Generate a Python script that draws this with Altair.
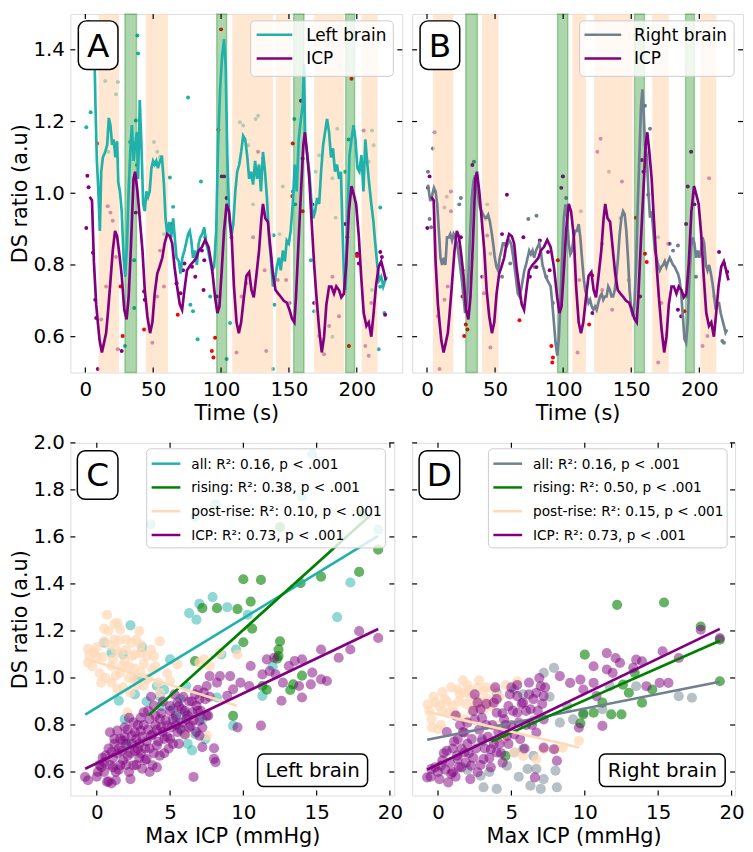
import altair as alt
import pandas as pd

FONT = "DejaVu Sans"
TEAL = "#20b2aa"
SLATE = "#708090"
PURPLE = "#800080"
GREEN = "#008000"
PEACH = "#ffdab9"
RED = "#ff0000"

# ---------------- time series (panels A, B) ----------------
icp_t = [3.2, 4.9, 6.3, 8.0, 9.2, 10.5, 12.2, 13.6, 15.3, 16.5,
         18.2, 20.2, 21.9, 23.4, 25.1, 26.8, 28.7, 30.4, 31.9, 33.6,
         35.5, 36.7, 38.4, 40.1, 42.1, 43.8, 45.7, 47.7, 49.4, 51.1,
         53.0, 54.7, 56.7, 58.4, 60.3, 62.3, 64.0, 65.7, 67.6, 69.6,
         71.3, 73.0, 74.9, 77.4, 79.8, 81.8, 83.5, 85.9, 88.3, 90.8,
         93.2, 95.6, 97.3, 98.8, 100.5, 102.2, 104.1, 105.8, 107.8, 109.5,
         111.4, 113.1, 114.8, 116.8, 118.7, 120.7, 122.4, 124.1, 126.0, 128.0,
         129.7, 130.9, 132.6, 134.5, 136.3, 138.2, 140.1, 142.1, 144.3, 146.2,
         148.4, 150.4, 152.3, 154.0, 155.2, 156.9, 158.9, 160.6, 161.8, 163.3,
         165.0, 166.7, 168.6, 170.3, 172.3, 174.2, 175.9, 177.6, 179.6, 181.3,
         183.2, 184.9, 186.9, 188.6, 190.5, 192.2, 194.2, 196.1, 197.8, 199.5,
         201.5, 203.2, 205.1, 207.1, 208.8, 210.7, 212.4, 214.1, 216.1, 218.0,
         219.7, 221.4]
icp_v = [0.99, 0.98, 0.81, 0.69, 0.64, 0.59, 0.556, 0.58, 0.61, 0.66,
         0.74, 0.84, 0.895, 0.88, 0.83, 0.77, 0.675, 0.648, 0.71, 0.85,
         1.04, 1.06, 1.005, 0.93, 0.84, 0.73, 0.657, 0.61, 0.64, 0.72,
         0.776, 0.795, 0.82, 0.86, 0.886, 0.88, 0.86, 0.795, 0.74, 0.69,
         0.675, 0.73, 0.785, 0.80, 0.81, 0.82, 0.84, 0.85, 0.87, 0.85,
         0.795, 0.71, 0.666, 0.684, 0.785, 0.895, 0.97, 0.95, 0.88, 0.74,
         0.64, 0.61, 0.64, 0.71, 0.77, 0.78, 0.73, 0.71, 0.77, 0.84,
         0.93, 0.97, 0.93, 0.92, 0.85, 0.776, 0.73, 0.72, 0.71, 0.70,
         0.695, 0.675, 0.65, 0.64, 0.71, 0.85, 1.005, 1.134, 1.17, 1.115,
         1.04, 0.923, 0.80, 0.71, 0.62, 0.556, 0.60, 0.69, 0.74, 0.74,
         0.72, 0.74, 0.73, 0.71, 0.72, 0.80, 0.95, 1.02, 0.996, 0.97,
         0.88, 0.77, 0.666, 0.63, 0.64, 0.60, 0.666, 0.74, 0.795, 0.81,
         0.785, 0.757]

left_brain = [(6.3, 1.47), (7.5, 1.24), (8.5, 1.09), (9.5, 1.015), (10.7, 0.895), (11.7, 1.06),
              (12.9, 1.10), (14.6, 1.115), (16.1, 1.135), (17.3, 1.21), (18.5, 1.19), (19.7, 1.135),
              (20.9, 1.15), (22.1, 1.10), (23.4, 1.145), (24.3, 1.03), (25.5, 1.005), (26.8, 0.95),
              (28.2, 0.82), (29.4, 0.767), (30.7, 0.86), (31.9, 1.005), (33.1, 1.115), (34.3, 1.19),
              (35.5, 1.09), (36.7, 1.135), (38.0, 1.17), (38.9, 1.04), (40.1, 1.26), (41.4, 1.125),
              (42.6, 0.97), (43.8, 0.95), (45.0, 1.005), (46.2, 0.99), (47.4, 1.005), (48.7, 1.07),
              (49.9, 1.09), (51.1, 1.08), (52.3, 1.09), (53.5, 1.07), (55.0, 1.09), (56.4, 1.105),
              (57.9, 1.025), (59.1, 0.93), (60.3, 0.886), (61.8, 0.92), (63.3, 0.877), (64.7, 0.93),
              (65.9, 0.877), (67.2, 0.82), (68.9, 0.81), (70.1, 0.776), (71.5, 0.82), (73.0, 0.84),
              (74.2, 0.86), (75.7, 0.886), (76.9, 0.895), (78.1, 0.868), (79.3, 0.82), (80.8, 0.84),
              (82.2, 0.80), (83.5, 0.86), (84.7, 0.877), (86.1, 0.886), (87.6, 0.905), (89.1, 0.86),
              (90.5, 0.84), (92.0, 0.81), (93.4, 0.785), (94.9, 0.795), (96.4, 0.895), (97.8, 1.135),
              (99.3, 1.29), (100.7, 1.38), (102.2, 1.43), (103.4, 1.354), (104.6, 1.106), (106.1, 0.923),
              (107.5, 0.877), (109.0, 0.914), (110.5, 1.005), (111.9, 1.06), (113.4, 1.08), (114.8, 1.115),
              (116.3, 1.16), (117.8, 1.15), (119.2, 1.106), (120.7, 1.04), (122.1, 1.06), (123.6, 1.024),
              (125.1, 1.09), (126.5, 1.04), (128.0, 1.08), (129.4, 1.005), (130.9, 1.115), (132.4, 1.06),
              (133.8, 0.987), (135.3, 0.877), (136.7, 0.82), (138.2, 0.74), (139.7, 0.757), (141.1, 0.795),
              (142.6, 0.82), (144.0, 0.785), (145.5, 0.84), (147.0, 0.81), (148.4, 0.868), (149.9, 0.86),
              (151.3, 0.895), (152.8, 0.97), (154.3, 1.08), (155.7, 1.005), (157.2, 1.15), (158.6, 1.2),
              (160.1, 1.244), (161.1, 1.36), (162.0, 1.15), (163.5, 1.106), (165.0, 1.06), (166.4, 0.987),
              (167.9, 0.93), (169.3, 0.95), (170.8, 0.987), (172.3, 0.97), (173.7, 1.06), (175.2, 1.134),
              (176.6, 1.17), (178.1, 1.207), (179.6, 1.17), (181.0, 1.10), (182.5, 1.125), (183.9, 1.06),
              (185.4, 1.08), (186.9, 1.04), (188.3, 1.06), (189.3, 0.923), (190.8, 0.74), (191.7, 0.73),
              (193.2, 0.923), (194.6, 1.106), (196.1, 1.15), (197.6, 1.19), (199.0, 1.15), (200.5, 1.07),
              (201.9, 1.06), (203.4, 1.106), (204.9, 1.005), (206.3, 1.15), (207.8, 1.08), (209.2, 1.024),
              (210.7, 0.97), (212.2, 0.923), (213.6, 0.86), (215.1, 0.80), (216.5, 0.757), (218.0, 0.767),
              (219.5, 0.74), (220.9, 0.757), (222.1, 0.767)]

right_brain = [(0.7, 1.024), (2.4, 0.978), (3.9, 0.996), (5.1, 1.015), (6.3, 1.005), (7.5, 0.969),
               (8.7, 0.895), (9.9, 0.82), (11.1, 0.80), (12.3, 0.82), (13.5, 0.80), (14.7, 0.877),
               (16.0, 0.877), (17.1, 0.886), (18.4, 0.868), (19.6, 0.886), (20.8, 0.877), (22.0, 0.86),
               (23.2, 0.83), (24.4, 0.795), (25.6, 0.758), (26.8, 0.712), (28.0, 0.666), (29.2, 0.694),
               (30.4, 0.767), (31.6, 0.877), (32.9, 0.987), (34.1, 1.033), (35.3, 1.05), (36.5, 1.024),
               (37.7, 0.987), (38.9, 0.96), (40.1, 0.95), (41.3, 0.94), (42.5, 0.932), (43.7, 0.932),
               (44.9, 0.94), (46.1, 0.923), (47.3, 0.895), (48.6, 0.86), (49.8, 0.82), (51.0, 0.795),
               (52.2, 0.785), (53.4, 0.82), (54.6, 0.84), (55.8, 0.86), (57.0, 0.86), (58.2, 0.85),
               (59.4, 0.86), (60.6, 0.868), (61.8, 0.86), (63.0, 0.83), (64.3, 0.795), (65.5, 0.758),
               (66.7, 0.72), (67.9, 0.712), (69.1, 0.73), (70.3, 0.758), (71.5, 0.785), (72.7, 0.80),
               (73.9, 0.82), (75.1, 0.84), (76.3, 0.83), (77.5, 0.84), (78.7, 0.82), (80.0, 0.84),
               (81.2, 0.85), (82.4, 0.86), (83.6, 0.84), (84.8, 0.80), (86.0, 0.785), (87.2, 0.767),
               (88.4, 0.758), (89.6, 0.749), (90.8, 0.74), (92.0, 0.694), (93.2, 0.64), (94.4, 0.583),
               (95.7, 0.547), (96.9, 0.60), (98.1, 0.712), (99.3, 0.83), (100.5, 0.932), (101.7, 0.969),
               (102.9, 0.932), (104.1, 0.86), (105.3, 0.83), (106.5, 0.84), (107.7, 0.877), (108.9, 0.895),
               (110.1, 0.895), (111.4, 0.914), (112.6, 0.877), (113.8, 0.82), (115.0, 0.767), (116.2, 0.73),
               (117.4, 0.712), (118.6, 0.694), (119.8, 0.703), (121.0, 0.684), (122.2, 0.675), (123.4, 0.684),
               (124.6, 0.675), (125.8, 0.694), (127.1, 0.712), (128.3, 0.72), (129.5, 0.703), (130.7, 0.712),
               (131.9, 0.712), (133.1, 0.74), (134.3, 0.73), (135.5, 0.712), (136.7, 0.712), (137.9, 0.73),
               (139.1, 0.767), (140.3, 0.82), (141.5, 0.886), (142.8, 0.932), (144.0, 0.95), (145.2, 0.941),
               (146.4, 0.895), (147.6, 0.82), (148.8, 0.73), (150.0, 0.675), (151.2, 0.657), (152.4, 0.694),
               (153.6, 0.80), (154.8, 0.969), (156.0, 1.106), (157.2, 1.244), (158.2, 1.29), (159.2, 1.217),
               (160.1, 1.134), (161.4, 1.106), (162.6, 1.005), (163.8, 0.932), (165.0, 0.95), (166.2, 0.895),
               (167.4, 0.84), (168.6, 0.82), (169.8, 0.80), (171.0, 0.785), (172.2, 0.795), (173.4, 0.80),
               (174.6, 0.81), (175.8, 0.795), (177.1, 0.81), (178.3, 0.82), (179.5, 0.81), (180.7, 0.80),
               (181.9, 0.795), (183.1, 0.785), (184.3, 0.776), (185.5, 0.758), (186.7, 0.72), (187.9, 0.657),
               (189.1, 0.593), (190.3, 0.583), (191.5, 0.64), (192.8, 0.767), (194.0, 0.85), (195.2, 0.877),
               (196.4, 0.86), (197.6, 0.82), (198.8, 0.84), (200.0, 0.82), (201.2, 0.84), (202.4, 0.877),
               (203.6, 0.86), (204.8, 0.80), (206.0, 0.785), (207.2, 0.80), (208.5, 0.776), (209.7, 0.749),
               (210.9, 0.712), (212.1, 0.675), (213.3, 0.694), (214.5, 0.694), (215.7, 0.666), (216.9, 0.648),
               (218.1, 0.63), (219.3, 0.611), (220.5, 0.62)]

# raw samples (panel A)
a_dots_brain = [(2.4, 1.478), (0.7, 1.184), (3.9, 1.226), (38.4, 1.44), (38.9, 1.39), (33.1, 1.143),
                (37.2, 1.203), (38.0, 1.079), (36.0, 0.813), (36.0, 0.68), (29.2, 0.574), (75.7, 1.267),
                (62.3, 1.044), (64.7, 0.962), (85.2, 1.033), (77.4, 0.689), (79.3, 0.671), (82.7, 0.593),
                (92.0, 0.712), (88.3, 0.877), (106.6, 0.638), (104.1, 0.538), (154.0, 1.207), (152.8, 1.005),
                (154.7, 0.969), (166.2, 0.813), (168.6, 0.671), (139.4, 0.689), (138.7, 0.883), (217.3, 0.96),
                (216.1, 0.565), (220.4, 0.666), (217.3, 0.739), (211.2, 0.73), (182.0, 0.60), (191.0, 1.06),
                (194.0, 1.15), (138.2, 0.51), (14.6, 1.313), (22.6, 1.276), (23.8, 1.31), (17.0, 1.116),
                (50.6, 1.143), (53.0, 1.116), (55.0, 1.102), (57.9, 0.886), (113.9, 1.198), (116.3, 1.189),
                (120.0, 1.134), (125.5, 1.207), (127.3, 1.216), (123.6, 0.969), (145.5, 1.019), (143.1, 0.886),
                (169.8, 1.06), (172.3, 1.106), (182.0, 1.042), (185.6, 1.18), (184.4, 0.932), (208.8, 1.088),
                (211.2, 1.175), (212.4, 1.134)]
a_dots_icp = [(1.5, 1.049), (2.4, 1.017), (0.7, 0.903), (5.6, 0.834), (7.3, 0.703), (8.0, 0.652), (9.2, 0.51),
              (26.8, 0.56), (37.2, 0.946), (36.5, 1.042), (43.3, 0.726), (43.8, 0.703), (64.0, 0.914),
              (67.2, 0.749), (70.1, 0.721), (72.0, 0.785), (73.0, 0.804), (78.6, 0.795), (81.0, 0.767),
              (85.9, 0.84), (87.6, 0.813), (87.1, 0.73), (96.8, 0.712), (100.5, 1.047), (102.2, 1.047),
              (104.1, 0.987), (107.8, 0.877), (141.8, 0.758), (147.9, 0.758), (150.4, 0.694), (158.9, 1.258),
              (160.1, 1.097), (167.4, 0.969), (168.6, 0.694), (191.7, 0.914), (193.0, 0.877), (200.2, 0.831),
              (201.5, 0.804), (217.3, 0.836), (218.5, 0.822), (220.9, 0.661), (16.5, 0.964), (18.5, 0.946),
              (20.2, 0.923), (11.7, 0.648), (15.3, 0.74), (22.6, 0.822), (23.8, 0.565), (53.0, 0.712),
              (55.0, 0.84), (57.9, 0.74), (49.4, 0.583), (115.1, 0.712), (118.7, 0.749), (127.3, 1.116),
              (130.9, 1.097), (123.6, 0.877), (132.1, 0.785), (111.4, 0.556), (133.3, 0.56), (172.3, 0.602),
              (175.9, 0.551), (179.6, 0.63), (182.0, 0.767), (186.9, 0.657), (206.3, 0.574), (208.8, 0.547),
              (210.7, 0.694), (205.1, 1.175)]
a_dots_red = [(8.8, 1.139), (27.5, 0.602), (25.8, 0.74), (43.3, 0.62), (68.1, 0.661), (93.2, 0.56),
              (94.4, 0.542), (95.6, 0.597), (98.1, 1.177), (100.0, 1.457), (152.8, 1.139), (152.3, 0.992),
              (160.1, 0.95), (196.1, 1.319), (194.2, 0.574), (200.2, 0.825)]

# raw samples (panel B)
b_dots_brain = [(0.7, 1.06), (1.9, 0.928), (4.3, 1.125), (3.1, 0.905), (24.9, 0.987), (23.7, 0.969),
                (43.0, 0.928), (34.5, 1.088), (46.6, 0.831), (55.1, 0.767), (61.1, 0.804), (74.4, 0.928),
                (80.4, 0.937), (79.2, 0.794), (87.7, 0.767), (92.5, 0.694), (99.8, 1.047), (102.2, 0.987),
                (160.1, 1.244), (163.8, 1.18), (178.3, 0.859), (180.7, 0.84), (184.3, 0.854), (191.5, 0.712),
                (197.6, 0.767), (216.9, 0.588), (218.1, 0.583), (210.9, 0.712), (12.8, 0.96), (44.2, 0.969),
                (113.0, 0.95), (133.6, 1.06), (169.8, 0.877), (201.2, 0.831), (14.5, 0.99), (142.0, 0.93)]
b_dots_icp = [(0.7, 1.015), (0.2, 0.903), (1.9, 1.047), (17.6, 0.95), (24.9, 0.877), (26.1, 0.785),
              (33.3, 1.079), (44.2, 0.882), (55.1, 0.886), (58.7, 0.996), (70.8, 0.877), (75.6, 0.767),
              (80.4, 0.794), (82.9, 0.868), (88.9, 0.836), (90.1, 0.785), (99.8, 1.047), (98.6, 1.015),
              (121.5, 0.666), (128.7, 0.859), (157.7, 1.093), (159.0, 1.06), (156.5, 0.712), (162.6, 0.996),
              (177.1, 0.859), (184.3, 0.675), (186.7, 0.657), (190.3, 0.914), (191.5, 1.019), (194.0, 1.116),
              (196.4, 0.969), (214.5, 0.836), (218.1, 0.804), (220.5, 0.781), (5.6, 1.17), (8.0, 0.657),
              (12.8, 0.703), (15.2, 0.74), (9.2, 0.51), (17.6, 1.005), (40.6, 0.767), (41.8, 0.721),
              (46.6, 0.57), (110.6, 0.556), (111.8, 0.758), (125.1, 1.116), (127.5, 1.152), (128.7, 0.73),
              (136.0, 0.675), (143.2, 1.033), (148.1, 0.758), (169.8, 0.528), (174.6, 0.583), (172.2, 0.694),
              (202.4, 0.574), (206.0, 0.602), (207.2, 1.042)]
b_dots_red = [(26.1, 0.712), (27.3, 0.602), (28.5, 0.634), (29.7, 0.62), (67.9, 0.646), (91.3, 0.574),
              (92.5, 0.542), (92.0, 0.528), (96.1, 0.813), (121.5, 0.771), (119.1, 0.634), (153.4, 0.932),
              (160.1, 0.831), (161.4, 0.808), (189.1, 0.671)]

# rising (green) and post-rise (orange) windows, seconds
a_post = [(9.7, 24.8), (44.5, 60.8), (108.3, 138.2), (140.4, 151.3), (168.6, 190.5), (203.6, 215.3)]
a_rise = [(29.2, 37.7), (96.8, 104.1), (153.5, 161.1), (191.8, 198.4)]
b_post = [(4.4, 19.3), (40.3, 52.4), (106.8, 116.7), (122.7, 151.0), (165.4, 177.5), (200.7, 212.5)]
b_rise = [(28.5, 37.0), (95.9, 103.4), (152.4, 159.7), (189.9, 196.4)]

# ---------------- scatter (panels C, D) ----------------
c_all = [(3.7, 1.654), (6.7, 1.685), (8.1, 1.74), (14.0, 1.772), (14.7, 1.952), (19.2, 1.631), (17.3, 1.406),
         (16.4, 1.259), (6.3, 1.276), (6.8, 1.248), (7.0, 1.315), (7.9, 1.344), (8.9, 1.301), (10.3, 1.269),
         (9.5, 1.121), (8.5, 1.10), (2.3, 1.224), (5.0, 1.079), (4.1, 0.966), (1.5, 0.903), (1.9, 0.825),
         (2.1, 0.72), (5.2, 0.868), (5.7, 0.91), (6.1, 0.966), (6.5, 0.692), (6.7, 0.762), (7.2, 0.825),
         (9.3, 0.797), (11.3, 0.924), (8.2, 0.917), (4.3, 0.924), (1.0, 1.107), (5.8, 0.776), (4.6, 0.95),
         (3.4, 0.90), (6.0, 0.85), (2.8, 1.0), (12.0, 1.05), (0.5, 1.15), (1.8, 1.10), (2.6, 0.93),
         (3.1, 1.13), (4.4, 0.88), (5.4, 0.83), (6.2, 0.72), (7.4, 0.74)]
c_rise = [(7.2, 1.297), (8.2, 1.297), (9.6, 1.293), (10.0, 1.42), (11.2, 1.417), (10.5, 1.325), (10.6, 1.21),
          (10.0, 1.152), (12.5, 1.156), (12.4, 1.121), (12.4, 1.093), (12.3, 1.082), (13.9, 1.403),
          (15.3, 1.431), (17.9, 1.451), (19.2, 1.546), (13.2, 0.949), (13.4, 0.973), (9.3, 0.839),
          (11.3, 0.966), (6.7, 1.072), (18.1, 1.699), (12.5, 1.642), (14.0, 1.01), (11.6, 0.95)]
c_post = [(-0.6, 1.124), (-0.6, 1.065), (-0.2, 1.107), (0.7, 1.269), (1.4, 1.234), (1.6, 1.206), (0.5, 1.156),
          (1.2, 1.163), (2.0, 1.163), (2.7, 1.163), (3.0, 1.107), (3.4, 1.093), (3.9, 1.093), (4.3, 1.156),
          (2.4, 1.093), (1.9, 1.072), (1.0, 1.051), (0.3, 0.98), (1.0, 0.98), (1.4, 0.952), (2.5, 0.994),
          (1.6, 1.023), (2.3, 0.938), (3.2, 0.966), (3.0, 1.023), (3.8, 1.037), (5.5, 1.058), (7.0, 1.065),
          (7.7, 1.051), (7.3, 1.079), (8.4, 1.107), (7.5, 0.755), (6.1, 0.762), (2.1, 0.854), (5.0, 0.987),
          (4.3, 0.938), (1.6, 1.107), (1.3, 1.121), (3.4, 0.994), (0.0, 1.09), (2.2, 1.05), (0.8, 1.20),
          (2.6, 1.10), (4.8, 1.02), (9.6, 1.10), (-0.5, 1.10), (-0.3, 1.05), (0.0, 1.13), (0.2, 1.02),
          (0.4, 1.09), (0.6, 1.00), (0.9, 1.14), (1.1, 1.08), (1.3, 1.01), (1.5, 1.16), (1.7, 1.05),
          (1.8, 0.96), (2.0, 1.12), (2.2, 1.00), (2.4, 1.15), (2.6, 1.04), (2.8, 0.97), (3.0, 1.14),
          (3.2, 1.06), (3.5, 1.00), (3.7, 1.12), (4.0, 1.05), (4.2, 0.98), (1.2, 1.23), (2.9, 1.20),
          (0.5, 1.21)]
c_icp = [(-0.8, 0.579), (-0.6, 0.565), (0.07, 0.60), (0.3, 0.621), (0.7, 0.558), (1.0, 0.551), (1.3, 0.565),
         (0.5, 0.642), (1.0, 0.685), (1.2, 0.741), (0.9, 0.769), (1.4, 0.776), (1.8, 0.734), (2.1, 0.67),
         (1.6, 0.628), (2.2, 0.60), (2.5, 0.628), (2.8, 0.699), (2.4, 0.755), (3.0, 0.776), (2.5, 0.811),
         (3.2, 0.854), (3.6, 0.825), (3.9, 0.882), (3.7, 0.755), (4.1, 0.713), (3.4, 0.656), (3.1, 0.614),
         (3.8, 0.628), (4.3, 0.67), (4.6, 0.741), (4.8, 0.797), (4.3, 0.825), (5.2, 0.825), (5.5, 0.896),
         (5.8, 0.868), (6.1, 0.825), (6.5, 0.854), (6.8, 0.882), (7.0, 0.91), (7.3, 0.938), (7.5, 0.966),
         (7.0, 0.818), (6.4, 0.797), (5.7, 0.783), (5.0, 0.741), (7.0, 0.755), (7.2, 0.706), (8.0, 0.701),
         (8.0, 0.656), (8.1, 0.642), (6.6, 0.579), (7.7, 1.008), (8.2, 0.98), (8.4, 1.008), (9.1, 1.008),
         (9.8, 0.98), (8.9, 0.924), (9.3, 0.952), (10.4, 0.966), (10.5, 1.051), (11.3, 1.015), (11.8, 1.029),
         (12.1, 1.086), (12.2, 1.015), (12.7, 0.98), (13.1, 1.051), (13.5, 1.072), (14.0, 1.079), (13.8, 0.966),
         (14.0, 0.917), (14.6, 0.973), (15.3, 0.994), (15.7, 0.987), (14.7, 1.023), (15.3, 1.121), (16.5, 1.086),
         (17.3, 1.121), (17.9, 1.199), (19.2, 1.17), (12.6, 0.903), (11.2, 0.797), (9.6, 0.79), (11.6, 1.079),
         (1.5, 0.70), (2.0, 0.72), (2.7, 0.74), (3.3, 0.70), (3.5, 0.78), (4.0, 0.80), (4.5, 0.77), (2.9, 0.66),
         (1.8, 0.65), (0.8, 0.70), (1.1, 0.62), (2.3, 0.57), (3.6, 0.60), (4.4, 0.85), (5.0, 0.88), (5.4, 0.80),
         (6.0, 0.86), (6.3, 0.90), (6.7, 0.93), (5.3, 0.93), (4.9, 0.70), (2.6, 0.69), (1.9, 0.79), (0.4, 0.66),
         (3.0, 0.83), (6.9, 0.86), (7.6, 0.84), (4.1, 0.62), (5.6, 0.72), (1.3, 0.60),
         (0.0, 0.58), (0.2, 0.63), (0.5, 0.60), (0.6, 0.67), (0.9, 0.63), (1.1, 0.66), (1.2, 0.72), (1.4, 0.68),
         (1.5, 0.61), (1.7, 0.69), (1.9, 0.75), (2.0, 0.63), (2.1, 0.78), (2.3, 0.68), (2.4, 0.72), (2.6, 0.77),
         (2.7, 0.63), (2.8, 0.80), (2.9, 0.72), (3.0, 0.68), (3.1, 0.75), (3.2, 0.80), (3.3, 0.65), (3.4, 0.73),
         (3.5, 0.86), (3.6, 0.70), (3.8, 0.76), (3.9, 0.68), (4.0, 0.84), (4.1, 0.78), (4.2, 0.73), (4.4, 0.79),
         (4.5, 0.90), (4.6, 0.68), (4.7, 0.82), (4.8, 0.75), (5.0, 0.86), (5.1, 0.79), (5.2, 0.72), (5.4, 0.84),
         (5.5, 0.77), (5.6, 0.88), (5.8, 0.81), (5.9, 0.92), (6.0, 0.76), (6.2, 0.84), (6.3, 0.79), (6.5, 0.90),
         (6.6, 0.82), (6.8, 0.77), (6.9, 0.95), (7.1, 0.86), (7.2, 0.79), (7.4, 0.91), (7.5, 0.84), (7.7, 0.92),
         (3.7, 0.92), (2.2, 0.83), (1.6, 0.74), (0.8, 0.56)]

d_all = [(7.9, 1.043), (8.3, 0.81), (9.2, 0.824), (6.7, 0.613), (7.2, 0.57), (8.1, 0.535), (6.3, 0.542),
         (4.0, 0.528), (3.1, 0.535), (4.7, 0.627), (5.2, 0.683), (5.8, 0.697), (6.5, 0.669), (4.0, 0.937),
         (5.2, 0.951), (7.2, 1.022), (16.4, 0.923), (17.3, 0.916), (13.5, 0.965), (11.7, 0.965), (11.2, 0.867),
         (9.9, 0.852), (2.9, 0.584), (8.0, 0.606), (7.0, 0.528), (6.1, 0.613), (3.5, 0.60), (5.5, 0.58),
         (5.8, 0.93), (6.5, 0.82), (7.6, 0.92), (8.8, 0.88), (4.4, 0.78), (3.0, 0.73), (2.0, 0.61)]
d_rise = [(12.2, 1.311), (15.4, 1.321), (17.9, 1.219), (19.2, 1.163), (19.2, 0.986), (10.0, 1.099), (10.6, 0.852),
          (9.9, 0.845), (11.8, 0.845), (12.5, 0.845), (11.2, 0.895), (9.7, 0.807), (12.6, 0.972), (13.9, 0.895),
          (14.6, 0.951), (13.4, 1.022), (13.0, 0.937), (4.6, 0.669)]
d_post = [(-0.7, 0.888), (-0.2, 0.895), (0.45, 0.909), (0.7, 0.852), (-0.45, 0.824), (0.0, 0.782), (1.35, 0.951),
          (1.8, 0.937), (2.25, 0.923), (2.7, 0.958), (3.1, 0.944), (3.8, 0.951), (2.5, 0.881), (3.1, 0.867),
          (1.8, 0.824), (1.1, 0.852), (5.4, 0.986), (5.2, 0.683), (5.8, 0.669), (7.2, 0.697), (8.0, 0.697),
          (8.5, 0.704), (9.6, 0.733), (6.7, 0.655), (4.5, 0.74), (4.0, 0.796), (1.4, 0.90), (2.0, 0.97),
          (0.3, 0.86), (3.4, 0.91), (-0.6, 0.86), (-0.3, 0.92), (0.1, 0.88), (0.3, 0.94), (0.6, 0.90),
          (0.9, 0.96), (1.0, 0.88), (1.3, 0.84), (1.5, 0.93), (1.7, 0.99), (1.9, 0.89), (2.1, 0.95),
          (2.3, 0.86), (2.6, 0.91), (2.8, 0.99), (3.0, 0.90), (3.3, 0.96), (3.6, 0.88), (4.2, 0.92),
          (4.6, 0.97), (0.2, 0.80), (-0.4, 0.79)]
d_icp = [(-0.74, 0.577), (-0.45, 0.613), (0.2, 0.627), (0.7, 0.556), (0.9, 0.592), (1.35, 0.655), (1.8, 0.683),
         (2.25, 0.627), (2.7, 0.599), (3.1, 0.655), (3.6, 0.697), (1.35, 0.74), (1.8, 0.768), (2.5, 0.824),
         (2.9, 0.867), (2.7, 0.895), (3.8, 0.895), (4.0, 0.852), (4.5, 0.824), (4.7, 0.754), (5.4, 0.852),
         (5.4, 0.923), (5.8, 0.895), (6.3, 0.867), (6.7, 0.937), (7.0, 0.965), (7.2, 0.923), (7.2, 0.824),
         (6.7, 0.768), (5.6, 0.74), (7.2, 0.704), (8.1, 0.648), (6.6, 0.577), (4.0, 0.683), (8.3, 1.008),
         (9.0, 0.979), (9.7, 0.993), (9.9, 0.951), (10.6, 0.979), (10.8, 0.923), (10.6, 1.05), (11.5, 1.036),
         (11.9, 1.022), (12.4, 1.064), (12.1, 1.085), (13.3, 1.043), (13.5, 1.078), (13.9, 1.071), (14.2, 0.965),
         (15.1, 0.979), (15.7, 0.979), (15.3, 1.113), (16.4, 1.085), (17.9, 1.205), (19.2, 1.17), (9.6, 0.789),
         (11.2, 0.796), (7.9, 0.697), (11.5, 1.106), (1.0, 0.70), (1.6, 0.62), (2.0, 0.72), (2.4, 0.66),
         (3.0, 0.74), (3.3, 0.80), (3.6, 0.62), (4.2, 0.72), (4.8, 0.88), (5.0, 0.80), (2.2, 0.57), (1.2, 0.58),
         (0.4, 0.68), (3.9, 0.96), (6.0, 0.80), (6.2, 0.93), (5.0, 0.96), (4.4, 0.64), (0.0, 0.60), (1.5, 0.80),
         (-0.5, 0.58), (-0.2, 0.62), (0.1, 0.57), (0.3, 0.65), (0.5, 0.61), (0.6, 0.69), (0.8, 0.64), (1.0, 0.60),
         (1.1, 0.73), (1.3, 0.67), (1.4, 0.62), (1.6, 0.70), (1.7, 0.77), (1.9, 0.64), (2.0, 0.81), (2.1, 0.68),
         (2.3, 0.74), (2.4, 0.86), (2.6, 0.70), (2.8, 0.78), (2.9, 0.63), (3.0, 0.83), (3.2, 0.70), (3.3, 0.89),
         (3.4, 0.75), (3.5, 0.66), (3.7, 0.80), (3.8, 0.72), (4.0, 0.91), (4.1, 0.77), (4.3, 0.68), (4.4, 0.85),
         (4.6, 0.80), (4.8, 0.72), (4.9, 0.93), (5.1, 0.86), (5.2, 0.76), (5.4, 0.97), (5.5, 0.81), (5.7, 0.89),
         (5.9, 0.70), (6.0, 0.86), (6.2, 0.98), (6.4, 0.80), (6.5, 0.91), (6.8, 0.86), (6.9, 1.0), (7.1, 0.89),
         (7.3, 0.96), (2.5, 0.93), (1.2, 0.84), (0.6, 0.77)]

# regression line end points
c_fit = {"all": [(-0.79, 0.844), (19.2, 1.604)], "rising": [(3.54, 0.842), (18.8, 1.70)],
         "post": [(-0.79, 1.083), (9.57, 0.882)], "icp": [(-0.79, 0.614), (19.2, 1.208)]}
d_fit = {"all": [(-0.74, 0.737), (19.2, 0.984)], "rising": [(3.64, 0.73), (19.2, 1.158)],
         "post": [(-0.74, 0.857), (9.6, 0.704)], "icp": [(-0.74, 0.61), (19.2, 1.209)]}

c_labels = ["all: R²: 0.16, p < .001", "rising: R²: 0.38, p < .001",
            "post-rise: R²: 0.10, p < .001", "ICP: R²: 0.73, p < .001"]
d_labels = ["all: R²: 0.16, p < .001", "rising: R²: 0.50, p < .001",
            "post-rise: R²: 0.15, p < .001", "ICP: R²: 0.73, p < .001"]

ts_xticks = [0, 50, 100, 150, 200]
ts_yticks = [0.6, 0.8, 1.0, 1.2, 1.4]
sc_xticks = [0, 5, 10, 15, 20]
sc_yticks = [0.6, 0.8, 1.0, 1.2, 1.4, 1.6, 1.8, 2.0]

ONE = pd.DataFrame({"k": [0]})


def pts(pairs):
    return pd.DataFrame(pairs, columns=["x", "y"])


def scale(dom):
    return alt.Scale(domain=dom, nice=False, zero=False)


def x_axis(values, title):
    return alt.Axis(values=values, format="d", ticks=False, domain=False, grid=False,
                    labelFont=FONT, labelFontSize=20, labelColor="black", labelPadding=7,
                    labelFlush=False, labelOverlap=False, title=title, titleFont=FONT,
                    titleFontSize=21, titleFontWeight="normal", titleColor="black", titlePadding=3)


def y_axis(values, title):
    return alt.Axis(values=values, format=".1f", ticks=False, domain=False, grid=False,
                    labelFont=FONT, labelFontSize=20, labelColor="black", labelPadding=6,
                    labelFlush=False, labelOverlap=False, title=title, titleFont=FONT,
                    titleFontSize=21, titleFontWeight="normal", titleColor="black", titlePadding=3)


def box(x0, x1, y0, y1, **kw):
    return alt.Chart(ONE).mark_rect(**kw).encode(
        x=alt.value(x0), x2=alt.value(x1), y=alt.value(y0), y2=alt.value(y1))


def label(x, y, text, size, align="left"):
    return alt.Chart(ONE).mark_text(text=text, font=FONT, fontSize=size, align=align,
                                    baseline="middle", color="black").encode(
        x=alt.value(x), y=alt.value(y))


def seg(x0, x1, y, color, w=2.5):
    return alt.Chart(ONE).mark_rule(color=color, strokeWidth=w).encode(
        x=alt.value(x0), x2=alt.value(x1), y=alt.value(y))


def ticks(X, Y, xt, yt, W, H):
    xd = pd.DataFrame({"x": xt})
    yd = pd.DataFrame({"y": yt})
    kw = dict(color="black", strokeWidth=1.2)
    return [
        alt.Chart(xd).mark_rule(**kw).encode(x=X, y=alt.value(H - 5), y2=alt.value(H)),
        alt.Chart(xd).mark_rule(**kw).encode(x=X, y=alt.value(0), y2=alt.value(5)),
        alt.Chart(yd).mark_rule(**kw).encode(y=Y, x=alt.value(0), x2=alt.value(5)),
        alt.Chart(yd).mark_rule(**kw).encode(y=Y, x=alt.value(W - 5), x2=alt.value(W)),
    ]


def ts_panel(W, H, xdom, show_y, brain, brain_color, brain_name, dots_brain, dots_icp, dots_red,
             post, rise, letter, leg):
    X = alt.X("x:Q", scale=scale(xdom), axis=x_axis(ts_xticks, "Time (s)"))
    Y = alt.Y("y:Q", scale=scale([0.5, 1.5]),
              axis=y_axis(ts_yticks, "DS ratio (a.u)") if show_y else None)
    icp = pd.DataFrame({"x": icp_t, "y": icp_v})
    post_df = pd.DataFrame(post, columns=["x", "x2"])
    rise_df = pd.DataFrame(rise, columns=["x", "x2"])
    layers = [
        alt.Chart(pts(dots_brain)).mark_circle(size=16, color=brain_color, opacity=1, clip=True).encode(x=X, y=Y),
        alt.Chart(pts(dots_icp)).mark_circle(size=16, color=PURPLE, opacity=1, clip=True).encode(x=X, y=Y),
        alt.Chart(pts(dots_red)).mark_circle(size=16, color=RED, opacity=1, clip=True).encode(x=X, y=Y),
        alt.Chart(post_df).mark_rect(color=PEACH, opacity=0.65).encode(
            x=X, x2="x2:Q", y=alt.value(0), y2=alt.value(H)),
        alt.Chart(rise_df).mark_rect(fill=GREEN, fillOpacity=0.32, stroke=GREEN, strokeOpacity=0.32,
                                     strokeWidth=1.5).encode(
            x=X, x2="x2:Q", y=alt.value(0), y2=alt.value(H)),
        alt.Chart(pts(brain)).mark_line(color=brain_color, strokeWidth=2.7, clip=True).encode(x=X, y=Y),
        alt.Chart(icp).mark_line(color=PURPLE, strokeWidth=2.7, clip=True).encode(x=X, y=Y),
    ]
    layers += ticks(X, Y, ts_xticks, ts_yticks, W, H)
    bx0, bx1, lx0, lx1, tx = leg
    layers += [
        box(bx0, bx1, 7, 63, fill="white", fillOpacity=0.8, stroke="#cccccc", strokeWidth=1, cornerRadius=4),
        seg(lx0, lx1, 21, brain_color), seg(lx0, lx1, 45, PURPLE),
        label(tx, 22, brain_name, 17), label(tx, 46, "ICP", 17),
        box(8, 48, 7, 56, fill="white", stroke="black", strokeWidth=1.5, cornerRadius=8),
        label(28, 33, letter, 33, align="center"),
    ]
    return alt.layer(*layers).properties(width=W, height=H)


def sc_panel(W, H, xdom, show_y, all_pts, all_color, rise_pts, post_pts, icp_pts, fit, labels,
             letter, side, side_box):
    X = alt.X("x:Q", scale=scale(xdom), axis=x_axis(sc_xticks, "Max ICP (mmHg)"))
    Y = alt.Y("y:Q", scale=scale([0.5, 2.0]),
              axis=y_axis(sc_yticks, "DS ratio (a.u)") if show_y else None)
    colors = [all_color, GREEN, PEACH, PURPLE]
    alphas = [0.5, 0.6, 0.75, 0.5]
    groups = [all_pts, rise_pts, post_pts, icp_pts]
    layers = [alt.Chart(pts(g)).mark_circle(size=105, color=c, opacity=a, clip=True).encode(x=X, y=Y)
              for g, c, a in zip(groups, colors, alphas)]
    for key, c in zip(["all", "rising", "post", "icp"], colors):
        layers.append(alt.Chart(pts(fit[key])).mark_line(color=c, strokeWidth=2.7, clip=True).encode(x=X, y=Y))
    layers += ticks(X, Y, sc_xticks, sc_yticks, W, H)
    layers.append(box(77, 318, 6, 106, fill="white", fillOpacity=0.8, stroke="#cccccc",
                      strokeWidth=1, cornerRadius=4))
    for i, (lab, c) in enumerate(zip(labels, colors)):
        yy = 21 + 24 * i
        layers.append(seg(82, 111, yy, c))
        layers.append(label(122, yy + 1, lab, 13.8))
    layers += [
        box(7, 48, 8, 57, fill="white", stroke="black", strokeWidth=1.5, cornerRadius=8),
        label(27.5, 34, letter, 33, align="center"),
        box(side_box[0], side_box[1], 314, 347, fill="white", stroke="black", strokeWidth=1.5, cornerRadius=6),
        label((side_box[0] + side_box[1]) / 2, 331, side, 20, align="center"),
    ]
    return alt.layer(*layers).properties(width=W, height=H)


A = ts_panel(335, 362, [-11, 233.5], True, left_brain, TEAL, "Left brain",
             a_dots_brain, a_dots_icp, a_dots_red, a_post, a_rise, "A", (182, 326, 188, 224, 238))
B = ts_panel(334, 362, [-10.9, 232.1], False, right_brain, SLATE, "Right brain",
             b_dots_brain, b_dots_icp, b_dots_red, b_post, b_rise, "B", (169, 325, 174, 211, 224))
C = sc_panel(327, 356, [-1.8, 20.3], True, c_all, TEAL, c_rise, c_post, c_icp, c_fit, c_labels,
             "C", "Left brain", (189, 300))
D = sc_panel(326, 356, [-1.76, 20.24], False, d_all, SLATE, d_rise, d_post, d_icp, d_fit, d_labels,
             "D", "Right brain", (189, 316))

chart = alt.concat(A, B, C, D, columns=2, spacing={"row": 71, "column": 10}, bounds="flush").properties(
    padding=0).configure_view(stroke="black", strokeWidth=1.2).configure(font=FONT)

chart.save("out.html", embed_options={"renderer": "svg", "actions": False})
